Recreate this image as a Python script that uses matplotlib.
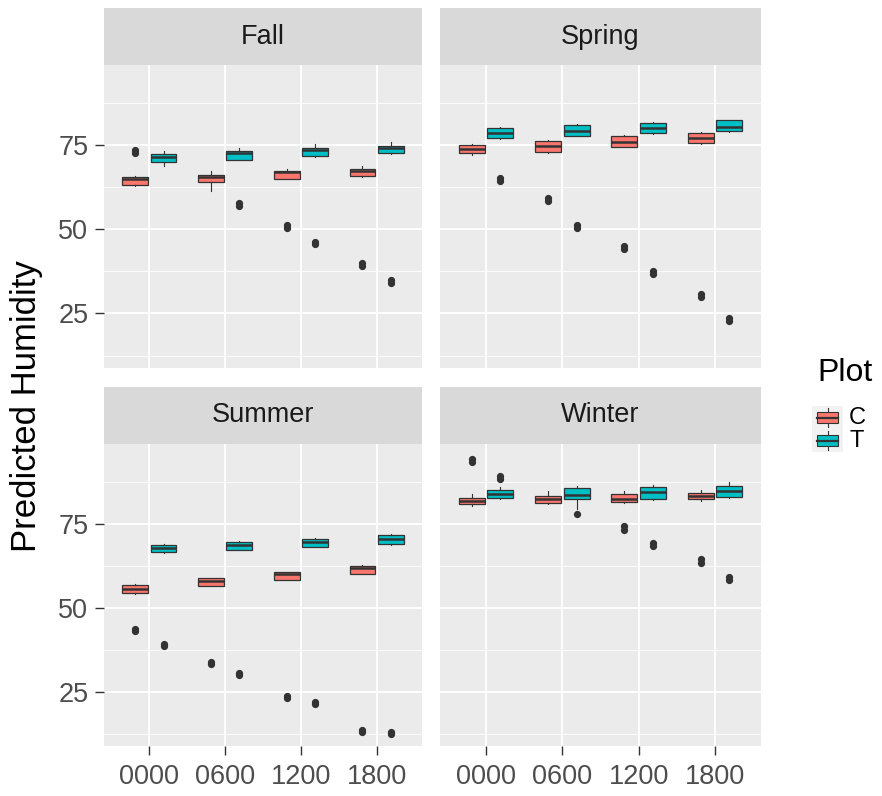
#!/usr/bin/python3
import matplotlib
matplotlib.use('Agg')
import matplotlib.pyplot as plt
from matplotlib.patches import Rectangle
import numpy as np

kaudet = ['Fall', 'Spring', 'Summer', 'Winter']
tunnit = ['0000', '0600', '1200', '1800']
ryhmat = ['C', 'T']

# rivit = kaudet, sarakkeet = tunnit
c_lo  = [[63.0, 61.5, 64.8, 65.5], [72.1, 72.8, 74.3, 75.3], [54.2, 56.4, 58.2, 60.0], [80.3, 80.9, 81.2, 81.9]]
c_q1  = [[63.3, 63.9, 65.0, 65.7], [72.6, 73.0, 74.5, 75.5], [54.4, 56.6, 58.4, 60.2], [80.9, 81.2, 81.5, 82.4]]
c_med = [[65.0, 65.6, 66.9, 67.4], [73.9, 74.7, 76.0, 77.1], [55.6, 58.1, 60.1, 61.9], [81.9, 82.4, 82.4, 83.2]]
c_q3  = [[65.4, 66.1, 67.2, 67.9], [75.1, 76.3, 77.8, 78.7], [56.8, 58.8, 60.6, 62.4], [82.8, 83.2, 83.9, 84.2]]
c_hi  = [[65.9, 67.2, 67.9, 68.9], [75.3, 76.5, 78.0, 78.9], [57.0, 59.0, 60.8, 62.6], [83.9, 84.9, 84.9, 85.1]]
c_out = [[[73.6, 72.7], [], [51.3, 50.5], [40.0, 39.2]],
         [[], [59.3, 58.4], [45.1, 44.2], [30.9, 30.0]],
         [[43.8, 43.2], [33.9, 33.1], [23.8, 23.0], [13.5, 12.9]],
         [[94.3, 93.3], [], [74.3, 73.3], [64.4, 63.4]]]

t_lo  = [[68.9, 70.5, 71.6, 72.4], [76.9, 77.6, 78.4, 79.0], [66.4, 67.1, 68.0, 68.8], [82.4, 79.5, 82.2, 82.7]]
t_q1  = [[70.1, 70.7, 71.8, 72.6], [77.1, 77.8, 78.6, 79.2], [66.6, 67.3, 68.2, 69.0], [82.6, 82.4, 82.4, 82.9]]
t_med = [[71.6, 72.8, 73.5, 74.1], [78.7, 79.2, 80.0, 80.5], [67.8, 68.7, 69.5, 70.5], [83.9, 83.6, 84.4, 84.9]]
t_q3  = [[72.3, 73.3, 74.0, 74.8], [80.2, 81.1, 81.7, 82.4], [68.7, 69.7, 70.5, 71.7], [85.1, 85.6, 86.1, 86.2]]
t_hi  = [[73.3, 74.1, 75.3, 76.0], [80.4, 81.3, 81.9, 82.6], [68.9, 69.9, 70.7, 71.9], [86.1, 86.4, 86.6, 87.4]]
t_out = [[[], [57.8, 56.9], [46.3, 45.5], [34.9, 34.1]],
         [[65.2, 64.2], [51.4, 50.4], [37.6, 36.6], [23.7, 22.7]],
         [[39.3, 38.7], [30.7, 29.9], [21.9, 21.3], [13.1, 12.5]],
         [[89.4, 88.4], [78.0], [69.3, 68.3], [59.3, 58.3]]]

varit = {'C': '#F8766D', 'T': '#00BFC4'}
reuna = '#333333'

W, H = 882, 796

def akseli(x0, x1, y0, y1):
    # pikseleistä kuvan koordinaatteihin
    return fig.add_axes([x0/W, 1 - y1/H, (x1-x0)/W, (y1-y0)/H])

def tilastot(lo, q1, med, q3, hi, out, s, h):
    return dict(whislo=lo[s][h], q1=q1[s][h], med=med[s][h], q3=q3[s][h],
                whishi=hi[s][h], fliers=np.array(out[s][h]))

def piirra_paneeli(ax, s):
    ax.set_facecolor('#EBEBEB')
    for g, (lo, q1, med, q3, hi, out) in zip(ryhmat, [(c_lo, c_q1, c_med, c_q3, c_hi, c_out),
                                                       (t_lo, t_q1, t_med, t_q3, t_hi, t_out)]):
        siirto = -0.1875 if g == 'C' else 0.1875
        st = [tilastot(lo, q1, med, q3, hi, out, s, h) for h in range(len(tunnit))]
        pos = np.arange(1, len(tunnit)+1) + siirto
        ax.bxp(st, positions=pos, widths=0.34, patch_artist=True, showcaps=False,
               boxprops=dict(facecolor=varit[g], edgecolor=reuna, linewidth=0.9),
               medianprops=dict(color=reuna, linewidth=1.8),
               whiskerprops=dict(color=reuna, linewidth=0.8),
               flierprops=dict(marker='o', markerfacecolor=reuna, markeredgecolor=reuna,
                               markersize=4.2, linestyle='none'),
               zorder=3)
    ax.set_xlim(0.4, 4.6)
    ax.set_ylim(8.8, 98.8)
    ax.set_yticks([25, 50, 75])
    ax.set_yticks([12.5, 37.5, 62.5, 87.5], minor=True)
    ax.set_xticks(range(1, 5))
    ax.set_xticklabels(tunnit)
    ax.grid(which='major', color='white', linewidth=1.3, zorder=0)
    ax.grid(which='minor', axis='y', color='white', linewidth=0.6, zorder=0)
    ax.set_axisbelow(True)
    for sp in ax.spines.values():
        sp.set_visible(False)
    ax.tick_params(which='major', length=6.3, width=1.0, color=reuna, labelcolor='#4D4D4D',
                   labelsize=19.5)
    ax.tick_params(axis='x', pad=7)
    ax.tick_params(axis='y', pad=5)
    ax.tick_params(which='minor', length=0)

def nauha(x0, x1, y0, y1, teksti):
    ax = akseli(x0, x1, y0, y1)
    ax.set_facecolor('#D9D9D9')
    ax.set_xticks([])
    ax.set_yticks([])
    for sp in ax.spines.values():
        sp.set_visible(False)
    ax.text(0.5, 0.5, teksti, transform=ax.transAxes, ha='center', va='center',
            fontsize=19.5, color='#1A1A1A')

plt.rcParams['font.family'] = ['Liberation Sans', 'DejaVu Sans']
fig = plt.figure(figsize=(W/100, H/100), dpi=100)

sarakkeet = [(104, 422), (440, 761)]
rivit = [((8, 65), (65, 368)), ((387, 444), (444, 746))]

for s, kausi in enumerate(kaudet):
    r, c = divmod(s, 2)
    x0, x1 = sarakkeet[c]
    (sy0, sy1), (py0, py1) = rivit[r]
    nauha(x0, x1, sy0, sy1, kausi)
    ax = akseli(x0, x1, py0, py1)
    piirra_paneeli(ax, s)
    if r == 0:
        ax.tick_params(axis='x', which='both', length=0, labelbottom=False)
    if c == 1:
        ax.tick_params(axis='y', which='both', length=0, labelleft=False)

fig.text(27/W, 1 - 406/H, 'Predicted Humidity', rotation=90, ha='center', va='center',
         fontsize=25, color='black')

# selite
fig.text(817/W, 1 - 373/H, 'Plot', ha='left', va='center', fontsize=23, color='black')
lax = akseli(812, 843, 406, 452)
lax.set_xlim(0, 1)
lax.set_ylim(0, 2)
lax.invert_yaxis()
lax.set_facecolor('#F2F2F2')
lax.set_xticks([])
lax.set_yticks([])
for sp in lax.spines.values():
    sp.set_visible(False)
for i, g in enumerate(ryhmat):
    lax.plot([0.5, 0.5], [i+0.1, i+0.9], color=reuna, linewidth=0.8, zorder=1)
    lax.add_patch(Rectangle((0.15, i+0.25), 0.7, 0.5, facecolor=varit[g], edgecolor=reuna,
                            linewidth=0.8, zorder=2))
    lax.plot([0.15, 0.85], [i+0.5, i+0.5], color=reuna, linewidth=1.6, zorder=3)
    fig.text(849/W, 1 - (418 + 23*i)/H, g, ha='left', va='center', fontsize=17, color='black')

fig.savefig('out.png', dpi=100)
